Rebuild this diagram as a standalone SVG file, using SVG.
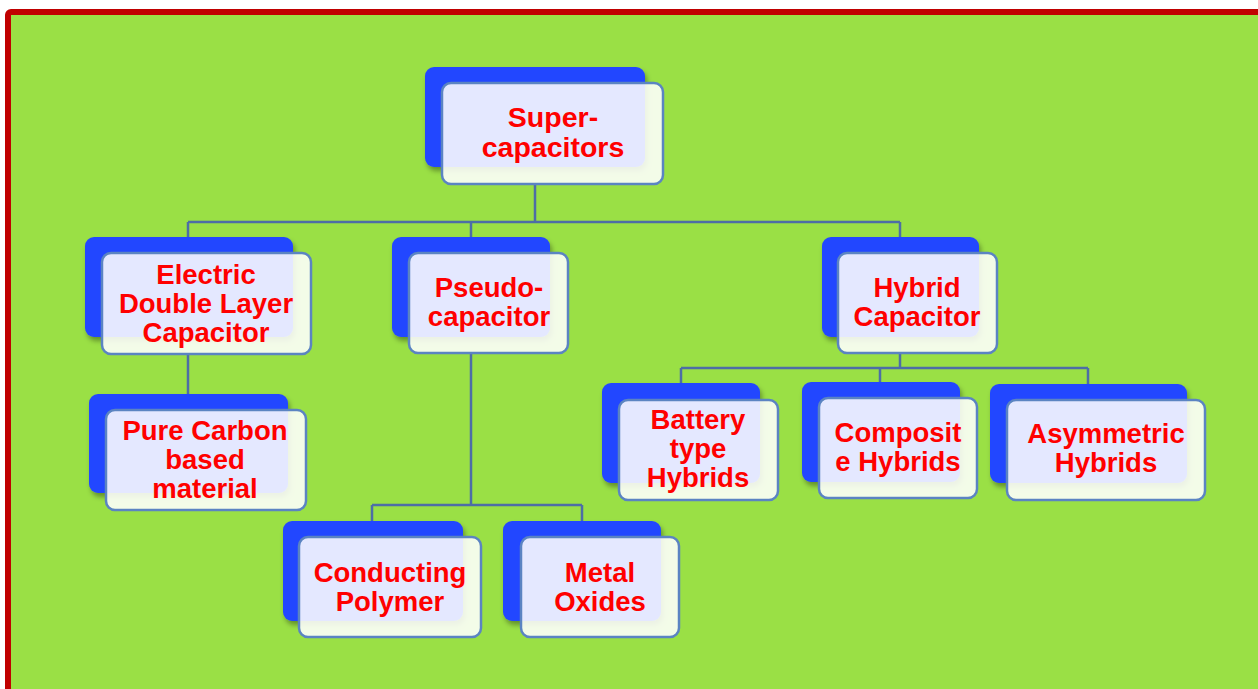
<svg xmlns="http://www.w3.org/2000/svg" width="1258" height="689" viewBox="0 0 1258 689">
<defs>
<filter id="sh" x="-10%" y="-10%" width="130%" height="140%">
<feDropShadow dx="2" dy="4" stdDeviation="2.5" flood-color="#000" flood-opacity="0.35"/>
</filter>
<style>
.back{fill:#2447ff;filter:url(#sh)}
.front{fill:#ffffff;fill-opacity:0.88;stroke:#5b84c2;stroke-width:2.5}
.t{font-family:"Liberation Sans",Arial,sans-serif;font-weight:bold;font-size:27.5px;fill:#ff0000;text-anchor:middle}
.big{font-size:28.5px}
.c{fill:none;stroke:#4d6ea6;stroke-width:2.5}
</style>
</defs>
<rect x="0" y="0" width="1258" height="689" fill="#ffffff"/>
<rect x="8" y="12" width="1254" height="700" rx="3" fill="#9ae045" stroke="#c00000" stroke-width="6"/>
<g id="connectors">
<path class="c" d="M535 184V222M188 222H900M188 222V237M471 222V237M900 222V237"/>
<path class="c" d="M188 354V394"/>
<path class="c" d="M471 353V505M372 505H582M372 505V521M582 505V521"/>
<path class="c" d="M900 353V368M681 368H1088M681 368V383M880 368V382M1088 368V384"/>
</g>
<g id="n-root">
<rect class="back" x="425" y="67" width="220" height="100" rx="9"/>
<rect class="front" x="442" y="83" width="221" height="101" rx="9"/>
<text class="t big" x="553" y="127">Super-</text>
<text class="t big" x="553" y="157">capacitors</text>
</g>
<g id="n-edlc">
<rect class="back" x="85" y="237" width="208" height="100" rx="9"/>
<rect class="front" x="102" y="253" width="209" height="101" rx="9"/>
<text class="t" x="206" y="284">Electric</text>
<text class="t" x="206" y="313">Double Layer</text>
<text class="t" x="206" y="342">Capacitor</text>
</g>
<g id="n-pseudo">
<rect class="back" x="392" y="237" width="158" height="100" rx="9"/>
<rect class="front" x="409" y="253" width="159" height="100" rx="9"/>
<text class="t" x="489" y="297">Pseudo-</text>
<text class="t" x="489" y="326">capacitor</text>
</g>
<g id="n-hybrid">
<rect class="back" x="822" y="237" width="157" height="100" rx="9"/>
<rect class="front" x="838" y="253" width="159" height="100" rx="9"/>
<text class="t" x="917" y="297">Hybrid</text>
<text class="t" x="917" y="326">Capacitor</text>
</g>
<g id="n-carbon">
<rect class="back" x="89" y="394" width="199" height="99" rx="9"/>
<rect class="front" x="106" y="410" width="200" height="100" rx="9"/>
<text class="t" x="205" y="440">Pure Carbon</text>
<text class="t" x="205" y="469">based</text>
<text class="t" x="205" y="498">material</text>
</g>
<g id="n-polymer">
<rect class="back" x="283" y="521" width="180" height="100" rx="9"/>
<rect class="front" x="299" y="537" width="182" height="100" rx="9"/>
<text class="t" x="390" y="582">Conducting</text>
<text class="t" x="390" y="611">Polymer</text>
</g>
<g id="n-oxides">
<rect class="back" x="503" y="521" width="158" height="100" rx="9"/>
<rect class="front" x="521" y="537" width="158" height="100" rx="9"/>
<text class="t" x="600" y="582">Metal</text>
<text class="t" x="600" y="611">Oxides</text>
</g>
<g id="n-battery">
<rect class="back" x="602" y="383" width="158" height="100" rx="9"/>
<rect class="front" x="619" y="400" width="159" height="100" rx="9"/>
<text class="t" x="698" y="429">Battery</text>
<text class="t" x="698" y="458">type</text>
<text class="t" x="698" y="487">Hybrids</text>
</g>
<g id="n-composite">
<rect class="back" x="802" y="382" width="158" height="100" rx="9"/>
<rect class="front" x="819" y="398" width="158" height="100" rx="9"/>
<text class="t" x="898" y="442">Composit</text>
<text class="t" x="898" y="471">e Hybrids</text>
</g>
<g id="n-asym">
<rect class="back" x="990" y="384" width="197" height="99" rx="9"/>
<rect class="front" x="1007" y="400" width="198" height="100" rx="9"/>
<text class="t" x="1106" y="443">Asymmetric</text>
<text class="t" x="1106" y="472">Hybrids</text>
</g>
</svg>
